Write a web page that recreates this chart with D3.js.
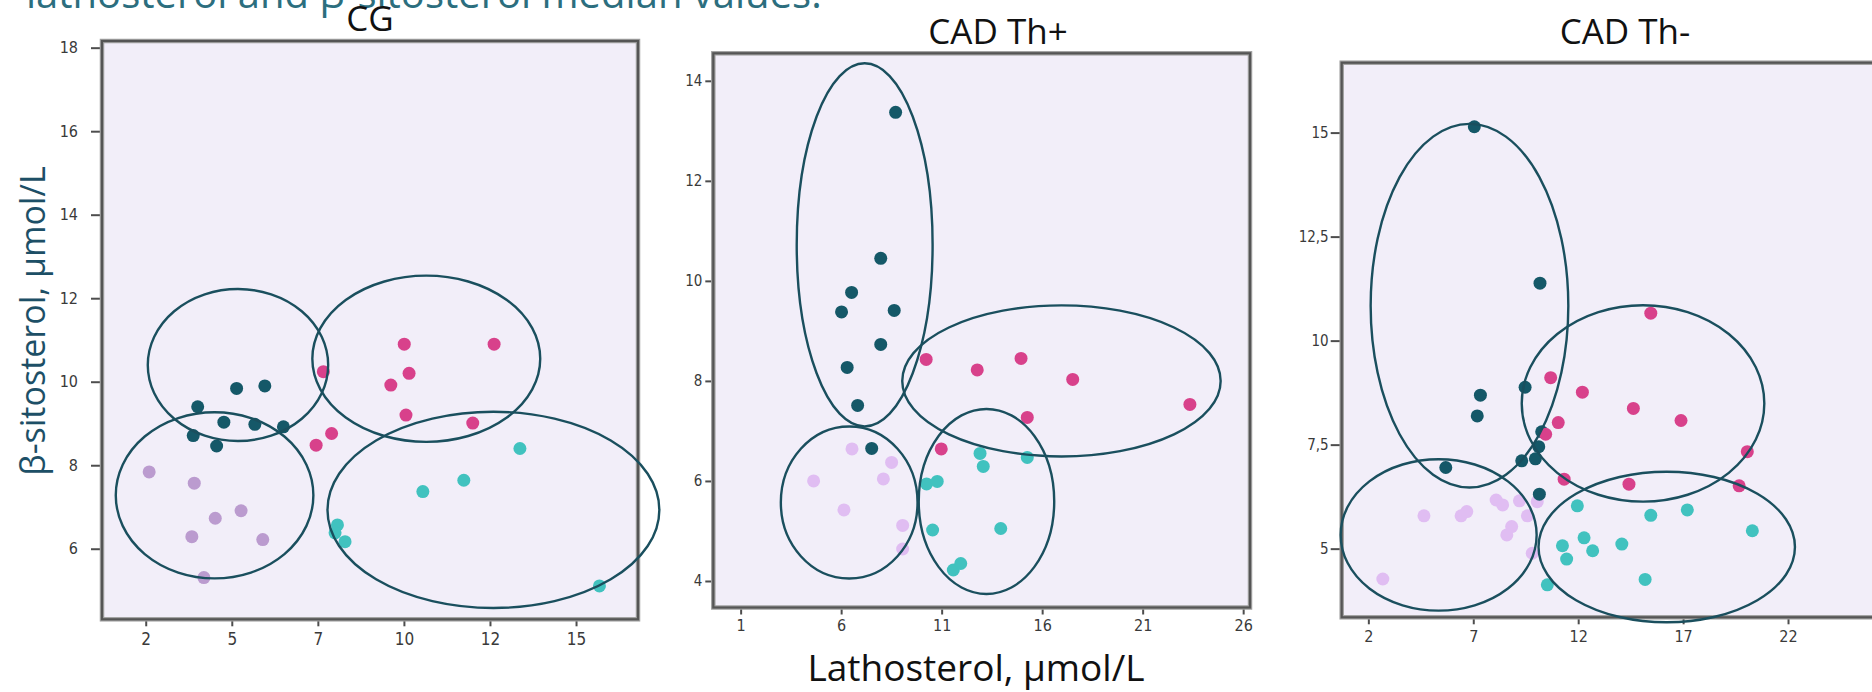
<!DOCTYPE html>
<html>
<head>
<meta charset="utf-8">
<script src="https://cdn.jsdelivr.net/npm/d3@7"></script>
<style>
  html, body { margin: 0; padding: 0; background: #ffffff; }
  svg { display: block; }
</style>
</head>
<body>
<svg id="chart" width="1872" height="692"></svg>
<script>
// Lathosterol (x) vs β-sitosterol (y), µmol/L, patients split into four clusters.
// Each point: [lathosterol, β-sitosterol]. Each envelope: [centre x, centre y, radius x, radius y] in µmol/L.

// --- CG ---
const cgLowLathHighSito  = [[4.01,9.40],[3.88,8.71],[4.56,8.46],[4.77,9.03],[5.14,9.84],[5.67,8.98],[5.96,9.90],[6.50,8.92]];
const cgHighLathHighSito = [[7.66,10.24],[7.45,8.48],[7.90,8.76],[10.01,10.90],[10.15,10.20],[9.62,9.92],[10.06,9.20],[12.00,9.01],[12.62,10.90]];
const cgHighLathLowSito  = [[13.37,8.40],[11.74,7.64],[10.55,7.37],[15.68,5.11],[8.07,6.57],[8.00,6.38],[8.29,6.17]];
const cgLowLathLowSito   = [[2.60,7.84],[3.91,7.57],[4.52,6.73],[5.27,6.91],[3.84,6.29],[5.90,6.22],[4.19,5.31]];
const cgEnvelopes = [[5.18,10.40,2.62,1.82],[10.65,10.55,3.31,1.99],[12.60,6.93,4.82,2.35],[4.50,7.28,2.87,1.99]];
const cgXTicks = [2.5, 5, 7.5, 10, 12.5, 15];
const cgXLabels = ["2", "5", "7", "10", "12", "15"];
const cgYTicks = [6, 8, 10, 12, 14, 16, 18];
const cgYLabels = ["6", "8", "10", "12", "14", "16", "18"];

// --- CAD Th+ ---
const thpLowLathHighSito  = [[8.71,13.37],[7.97,10.45],[6.52,9.77],[6.02,9.38],[8.64,9.41],[7.97,8.73],[6.30,8.27],[6.82,7.51],[7.52,6.65]];
const thpHighLathHighSito = [[10.23,8.43],[12.77,8.22],[14.95,8.45],[17.52,8.03],[23.35,7.53],[15.26,7.27],[10.98,6.64]];
const thpHighLathLowSito  = [[10.25,5.94],[10.78,5.99],[10.55,5.02],[11.58,4.22],[11.95,4.35],[12.91,6.55],[13.07,6.29],[15.26,6.47],[13.94,5.05]];
const thpLowLathLowSito   = [[6.54,6.64],[8.51,6.37],[4.63,6.00],[8.10,6.04],[6.14,5.42],[9.06,5.11],[9.06,4.64]];
const thpEnvelopes = [[7.17,10.72,3.38,3.63],[16.96,8.00,7.92,1.51],[13.23,5.59,3.37,1.85],[6.40,5.57,3.40,1.52]];
const thpXTicks = [1, 6, 11, 16, 21, 26];
const thpXLabels = ["1", "6", "11", "16", "21", "26"];
const thpYTicks = [4, 6, 8, 10, 12, 14];
const thpYLabels = ["4", "6", "8", "10", "12", "14"];

// --- CAD Th- ---
const thmLowLathHighSito  = [[7.05,15.14],[10.18,11.38],[9.47,8.88],[7.34,8.69],[7.19,8.19],[5.69,6.95],[9.31,7.11],[9.96,7.16],[10.12,7.45],[10.26,7.81],[10.15,6.31]];
const thmHighLathHighSito = [[10.69,9.11],[12.20,8.76],[11.05,8.03],[10.45,7.75],[11.33,6.67],[15.46,10.66],[14.63,8.37],[16.90,8.08],[20.06,7.33],[14.42,6.55],[19.67,6.51]];
const thmHighLathLowSito  = [[11.96,6.03],[12.28,5.26],[11.25,5.07],[11.45,4.75],[12.69,4.95],[10.53,4.13],[15.46,5.80],[17.20,5.93],[20.30,5.43],[14.08,5.11],[15.19,4.26]];
const thmLowLathLowSito   = [[2.69,4.27],[4.65,5.79],[6.42,5.79],[6.69,5.89],[8.09,6.17],[8.40,6.05],[9.20,6.15],[9.58,5.79],[10.05,6.13],[8.83,5.53],[8.60,5.33],[9.81,4.89]];
const thmEnvelopes = [[6.82,10.84,4.71,4.37],[15.09,8.49,5.78,2.36],[16.22,5.04,6.11,1.81],[5.35,5.33,4.67,1.82]];
const thmXTicks = [2, 7, 12, 17, 22];
const thmXLabels = ["2", "7", "12", "17", "22"];
const thmYTicks = [5, 7.5, 10, 12.5, 15];
const thmYLabels = ["5", "7,5", "10", "12,5", "15"];

const panelTitles = ["CG", "CAD Th+", "CAD Th-"];

// ---------------------------------------------------------------------------
const COL_DARK = "#155868";
const COL_PINK = "#d8418b";
const COL_CYAN = "#41c2bf";
const COL_RING = "#1a4f5e";
const TICK_FONT = "'Liberation Sans Narrow', 'DejaVu Sans Condensed', sans-serif";
const TEXT_FONT = "'Open Sans', Lato, sans-serif";

const svg = d3.select("#chart");
svg.append("rect").attr("width", 1872).attr("height", 692).attr("fill", "#ffffff");

// heading line running off the top edge
svg.append("text")
  .attr("x", 26).attr("y", 8)
  .attr("font-family", TEXT_FONT).attr("font-size", 40)
  .attr("fill", "#2c6e7e")
  .text("lathosterol and β-sitosterol median values.");

function drawPanel(p) {
  const x = d3.scaleLinear().domain(p.xDomain).range([p.left, p.right]);
  const y = d3.scaleLinear().domain(p.yDomain).range([p.bottom, p.top]);
  const g = svg.append("g");

  g.append("rect")
    .attr("x", p.left).attr("y", p.top)
    .attr("width", p.right - p.left).attr("height", p.bottom - p.top)
    .attr("fill", "#f2eef9");

  const yAxis = d3.axisLeft(y)
    .tickValues(p.yTicks)
    .tickFormat((d, i) => p.yLabels[i])
    .tickSize(p.yTickSize).tickPadding(p.yPad);
  const gy = g.append("g").attr("transform", `translate(${p.left},0)`).call(yAxis);

  const xAxis = d3.axisBottom(x)
    .tickValues(p.xTicks)
    .tickFormat((d, i) => p.xLabels[i])
    .tickSize(p.xTickSize).tickPadding(p.xPad);
  const gx = g.append("g").attr("transform", `translate(0,${p.bottom})`).call(xAxis);

  [gy, gx].forEach(ax => {
    ax.select(".domain").remove();
    ax.selectAll(".tick line").attr("stroke", "#4d4d4d").attr("stroke-width", 2);
    ax.selectAll(".tick text")
      .attr("font-family", TICK_FONT)
      .attr("fill", "#3a3a3a");
  });
  gy.selectAll(".tick text").attr("font-size", p.yFont);
  gx.selectAll(".tick text").attr("font-size", p.xFont);

  // frame
  g.append("rect")
    .attr("x", p.left).attr("y", p.top)
    .attr("width", p.right - p.left).attr("height", p.bottom - p.top)
    .attr("fill", "none").attr("stroke", "#a0a0a0").attr("stroke-width", 4.5);
  g.append("rect")
    .attr("x", p.left).attr("y", p.top)
    .attr("width", p.right - p.left).attr("height", p.bottom - p.top)
    .attr("fill", "none").attr("stroke", "#555555").attr("stroke-width", 2.2);

  // points
  const groups = [
    { pts: p.lowLow, color: p.lilac },
    { pts: p.highLow, color: COL_CYAN },
    { pts: p.lowHigh, color: COL_DARK },
    { pts: p.highHigh, color: COL_PINK }
  ];
  groups.forEach(gr => {
    g.append("g").selectAll("circle")
      .data(gr.pts)
      .join("circle")
      .attr("cx", d => x(d[0]))
      .attr("cy", d => y(d[1]))
      .attr("r", 6.5)
      .attr("fill", gr.color);
  });

  // cluster envelopes
  g.append("g").selectAll("ellipse")
    .data(p.envelopes)
    .join("ellipse")
    .attr("cx", d => x(d[0]))
    .attr("cy", d => y(d[1]))
    .attr("rx", d => Math.abs(x(d[0] + d[2]) - x(d[0])))
    .attr("ry", d => Math.abs(y(d[1] + d[3]) - y(d[1])))
    .attr("fill", "none")
    .attr("stroke", COL_RING)
    .attr("stroke-width", 2.4);

  svg.append("text")
    .attr("x", p.titleX).attr("y", p.titleY)
    .attr("text-anchor", "middle")
    .attr("font-family", TEXT_FONT).attr("font-size", 35)
    .attr("fill", "#111111")
    .text(p.title);
}

drawPanel({
  title: panelTitles[0], titleX: 370, titleY: 31,
  left: 102, right: 638, top: 41, bottom: 619.3,
  xDomain: [1.23, 16.80], yDomain: [4.31, 18.16],
  xTicks: cgXTicks, xLabels: cgXLabels, yTicks: cgYTicks, yLabels: cgYLabels,
  yTickSize: 11, yPad: 13, xTickSize: 7, xPad: 7, yFont: 16, xFont: 17,
  lowHigh: cgLowLathHighSito, highHigh: cgHighLathHighSito,
  highLow: cgHighLathLowSito, lowLow: cgLowLathLowSito,
  envelopes: cgEnvelopes, lilac: "#bb9bcf"
});

drawPanel({
  title: panelTitles[1], titleX: 998, titleY: 44,
  left: 713.3, right: 1250, top: 53.3, bottom: 607.5,
  xDomain: [-0.36, 26.34], yDomain: [3.47, 14.55],
  xTicks: thpXTicks, xLabels: thpXLabels, yTicks: thpYTicks, yLabels: thpYLabels,
  yTickSize: 8, yPad: 3, xTickSize: 7, xPad: 5, yFont: 15, xFont: 16,
  lowHigh: thpLowLathHighSito, highHigh: thpHighLathHighSito,
  highLow: thpHighLathLowSito, lowLow: thpLowLathLowSito,
  envelopes: thpEnvelopes, lilac: "#e0bdf2"
});

drawPanel({
  title: panelTitles[2], titleX: 1625, titleY: 44,
  left: 1341.7, right: 1890, top: 62.7, bottom: 617.3,
  xDomain: [0.73, 26.86], yDomain: [3.35, 16.68],
  xTicks: thmXTicks, xLabels: thmXLabels, yTicks: thmYTicks, yLabels: thmYLabels,
  yTickSize: 11, yPad: 2, xTickSize: 7, xPad: 6, yFont: 15, xFont: 16,
  lowHigh: thmLowLathHighSito, highHigh: thmHighLathHighSito,
  highLow: thmHighLathLowSito, lowLow: thmLowLathLowSito,
  envelopes: thmEnvelopes, lilac: "#e0bdf2"
});

// shared axis titles
svg.append("text")
  .attr("x", 976).attr("y", 681)
  .attr("text-anchor", "middle")
  .attr("font-family", TEXT_FONT).attr("font-size", 37)
  .attr("fill", "#111111")
  .text("Lathosterol, µmol/L");

svg.append("text")
  .attr("transform", "translate(45,321) rotate(-90)")
  .attr("text-anchor", "middle")
  .attr("font-family", TEXT_FONT).attr("font-size", 34)
  .attr("fill", "#1d4f66")
  .text("β-sitosterol, µmol/L");
</script>
</body>
</html>
